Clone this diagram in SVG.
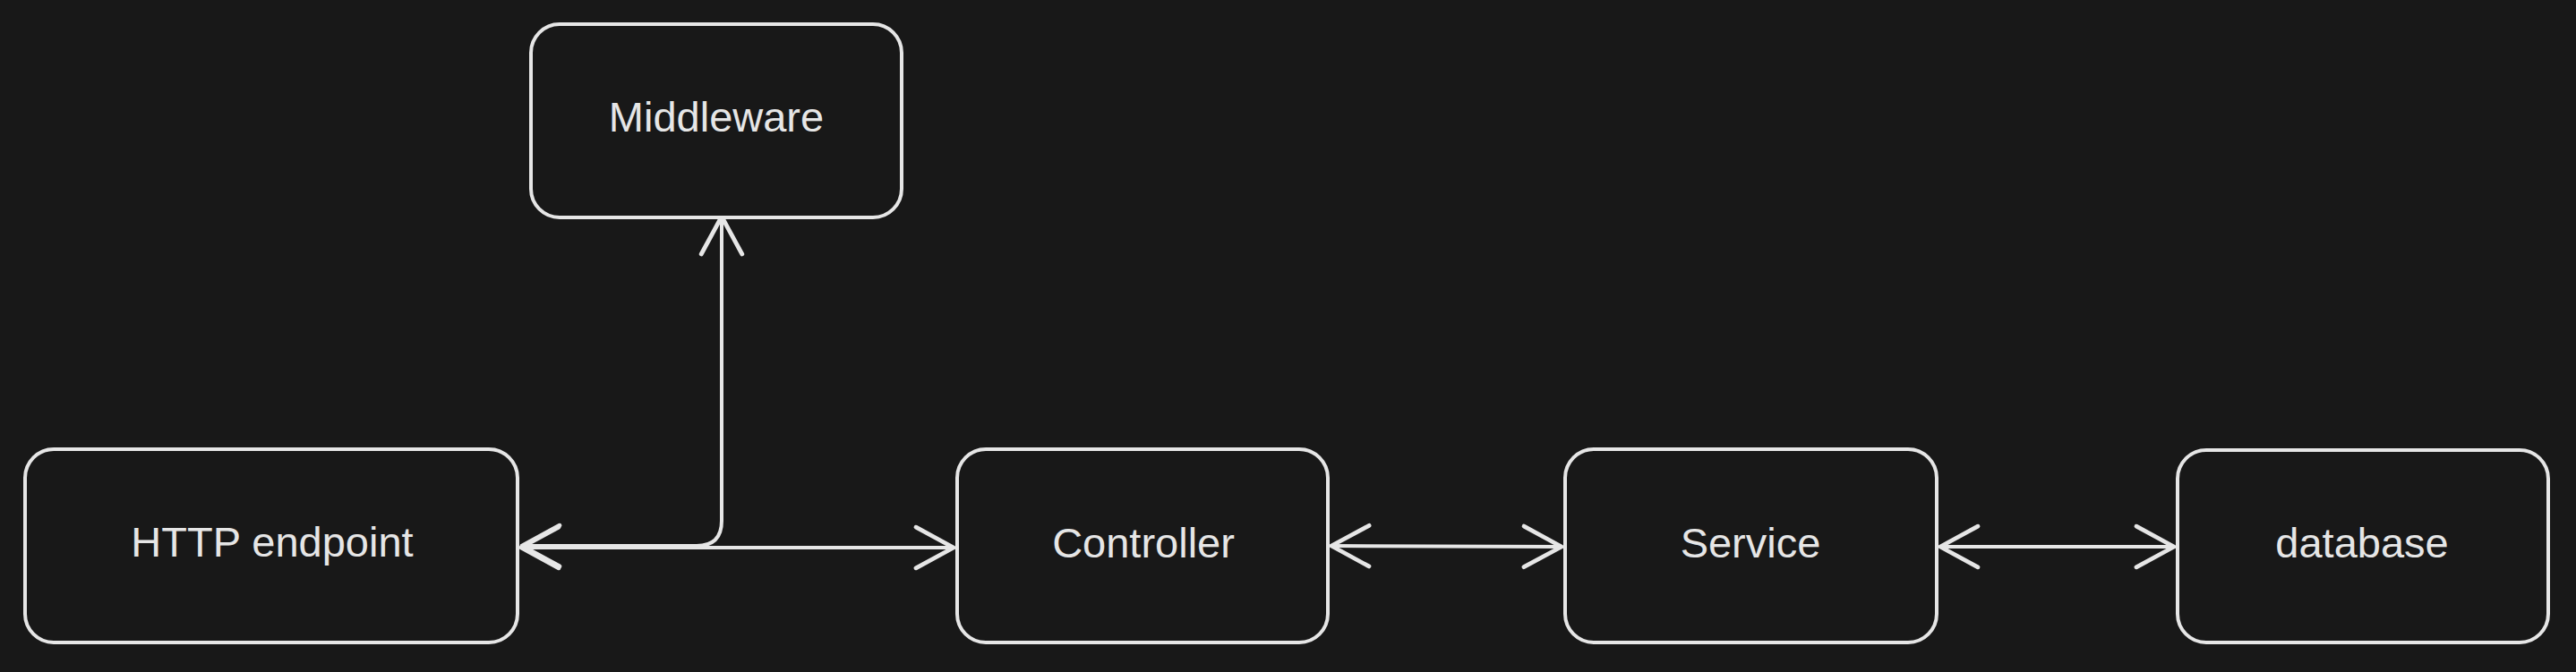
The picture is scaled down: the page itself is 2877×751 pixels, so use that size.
<svg xmlns="http://www.w3.org/2000/svg" width="2877" height="751" viewBox="0 0 2877 751">
  <style>
    .box { fill: #181818; stroke: #e6e6e6; stroke-width: 4; }
    .lbl { fill: #e6e6e6; font-family: "Liberation Sans", Arial, sans-serif; font-size: 47px; text-anchor: middle; }
    .conn { fill: none; stroke: #e6e6e6; stroke-width: 4; stroke-linecap: round; stroke-linejoin: round; marker-start: url(#arr); marker-end: url(#arr); }
  </style>
  <defs>
    <marker id="arr" markerUnits="userSpaceOnUse" orient="auto-start-reverse" refX="0" refY="0" markerWidth="60" markerHeight="60" viewBox="-40 -25 45 50" overflow="visible">
      <path d="M -35 -19 L 0 0 L -35 19" fill="none" stroke="#e6e6e6" stroke-width="4" stroke-linecap="round" stroke-linejoin="round"/>
    </marker>
  </defs>
  <rect width="2877" height="751" fill="#181818"/>
  <g id="connectors">
    <path class="conn" d="M 583 610 L 778 610 Q 806 610 806 582 L 806 242"/>
    <path class="conn" d="M 582 612 L 1065 612"/>
    <path class="conn" d="M 1487 610 L 1744 611"/>
    <path class="conn" d="M 2167 611 L 2428 611"/>
  </g>
  <g id="middleware">
    <rect class="box" x="593" y="27" width="414" height="216" rx="32"/>
    <text class="lbl" x="800" y="147">Middleware</text>
  </g>
  <g id="http-endpoint">
    <rect class="box" x="28" y="502" width="550" height="216" rx="32"/>
    <text class="lbl" x="304" y="622">HTTP endpoint</text>
  </g>
  <g id="controller">
    <rect class="box" x="1069" y="502" width="414" height="216" rx="32"/>
    <text class="lbl" x="1277" y="623">Controller</text>
  </g>
  <g id="service">
    <rect class="box" x="1748" y="502" width="415" height="216" rx="32"/>
    <text class="lbl" x="1955" y="623">Service</text>
  </g>
  <g id="database">
    <rect class="box" x="2432" y="503" width="414" height="215" rx="32"/>
    <text class="lbl" x="2638" y="623">database</text>
  </g>
</svg>
